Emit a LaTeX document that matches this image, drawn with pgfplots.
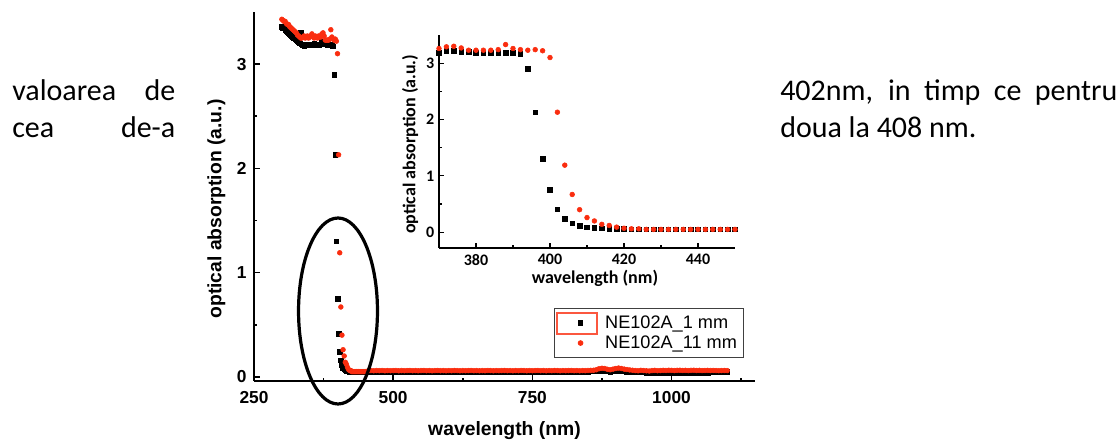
\documentclass[border=0pt]{standalone}
\usepackage{fontspec}
\usepackage{pgfplots}
\usepackage{pgfplotstable}
\pgfplotsset{compat=1.18}
\newfontfamily\arial{Liberation Sans}
\newfontfamily\calibri{Carlito}
\definecolor{dotred}{RGB}{250,45,15}

% wavelength, NE102A_1 mm (b), NE102A_11 mm (r)
\pgfplotstableread{
x b r
300 3.36 3.43
302 3.35 3.42
304 3.35 3.41
306 3.33 3.41
308 3.32 3.39
310 3.31 3.38
312 3.30 3.38
314 3.29 3.36
316 3.28 3.35
318 3.27 3.34
320 3.26 3.33
322 3.25 3.32
324 3.24 3.31
326 3.23 3.30
328 3.22 3.28
330 3.21 3.27
332 3.20 3.26
334 3.30 3.25
336 3.19 3.25
338 3.18 3.26
340 3.17 3.27
342 3.18 3.25
344 3.19 3.26
346 3.18 3.27
348 3.19 3.25
350 3.18 3.26
352 3.19 3.27
354 3.18 3.29
356 3.19 3.26
358 3.20 3.25
360 3.19 3.27
362 3.18 3.26
364 3.19 3.25
366 3.18 3.27
368 3.19 3.26
370 3.19 3.26
372 3.22 3.29
374 3.22 3.30
376 3.20 3.27
378 3.20 3.23
380 3.19 3.23
382 3.18 3.23
384 3.18 3.23
386 3.18 3.24
388 3.19 3.33
390 3.19 3.26
392 3.17 3.24
394 2.90 3.23
396 2.13 3.24
398 1.30 3.22
400 0.75 3.10
402 0.41 2.13
404 0.24 1.19
406 0.16 0.67
408 0.11 0.40
410 0.09 0.26
412 0.08 0.20
414 0.07 0.14
416 0.06 0.12
418 0.06 0.09
420 0.06 0.07
422 0.05 0.06
424 0.05 0.06
426 0.05 0.05
428 0.05 0.05
430 0.05 0.05
432 0.05 0.05
434 0.05 0.05
436 0.05 0.05
438 0.05 0.05
440 0.05 0.05
442 0.05 0.05
444 0.05 0.05
446 0.05 0.05
448 0.05 0.05
450 0.05 0.05
455 0.050 0.057
460 0.050 0.060
465 0.051 0.058
470 0.050 0.060
475 0.049 0.059
480 0.050 0.061
485 0.050 0.058
490 0.051 0.060
495 0.050 0.059
500 0.049 0.060
505 0.050 0.061
510 0.050 0.058
515 0.051 0.060
520 0.050 0.059
525 0.049 0.060
530 0.050 0.061
535 0.050 0.059
540 0.051 0.060
545 0.050 0.058
550 0.050 0.060
555 0.049 0.061
560 0.050 0.059
565 0.050 0.060
570 0.051 0.058
575 0.050 0.060
580 0.050 0.061
585 0.049 0.059
590 0.050 0.060
595 0.050 0.058
600 0.051 0.060
605 0.050 0.059
610 0.050 0.061
615 0.049 0.060
620 0.050 0.058
625 0.050 0.060
630 0.051 0.059
635 0.050 0.060
640 0.050 0.061
645 0.049 0.059
650 0.050 0.060
655 0.050 0.058
660 0.051 0.060
665 0.050 0.059
670 0.050 0.061
675 0.049 0.060
680 0.050 0.058
685 0.050 0.060
690 0.051 0.059
695 0.050 0.060
700 0.050 0.061
705 0.049 0.059
710 0.050 0.060
715 0.050 0.058
720 0.051 0.060
725 0.050 0.059
730 0.050 0.061
735 0.049 0.060
740 0.050 0.058
745 0.050 0.060
750 0.051 0.059
755 0.050 0.060
760 0.050 0.061
765 0.049 0.059
770 0.050 0.060
775 0.050 0.058
780 0.051 0.060
785 0.050 0.059
790 0.050 0.061
795 0.049 0.060
800 0.050 0.058
805 0.050 0.060
810 0.051 0.059
815 0.050 0.060
820 0.050 0.061
825 0.049 0.059
830 0.050 0.060
835 0.050 0.058
840 0.051 0.060
845 0.050 0.059
850 0.050 0.061
855 0.052 0.062
860 0.053 0.063
865 0.055 0.068
870 0.060 0.078
875 0.058 0.082
880 0.055 0.080
885 0.052 0.072
890 0.050 0.068
895 0.053 0.074
900 0.056 0.080
905 0.058 0.084
910 0.055 0.080
915 0.052 0.074
920 0.050 0.070
925 0.048 0.066
930 0.046 0.063
935 0.045 0.060
940 0.045 0.058
945 0.044 0.062
950 0.043 0.060
955 0.042 0.058
960 0.042 0.056
965 0.041 0.060
970 0.041 0.062
975 0.040 0.059
980 0.040 0.060
985 0.041 0.062
990 0.040 0.061
995 0.040 0.063
1000 0.041 0.062
1005 0.040 0.060
1010 0.041 0.062
1015 0.040 0.063
1020 0.040 0.061
1025 0.041 0.062
1030 0.040 0.060
1035 0.041 0.062
1040 0.040 0.063
1045 0.040 0.061
1050 0.041 0.062
1055 0.040 0.060
1060 0.041 0.061
1065 0.042 0.062
1070 0.045 0.060
1075 0.047 0.061
1080 0.048 0.060
1085 0.048 0.059
1090 0.049 0.060
1095 0.049 0.061
1100 0.050 0.060
}\absdata

\pgfplotsset{
  sqmark/.style={only marks, mark=square*, mark size=1.75pt, mark options={draw=black, fill=black}},
  dotmark/.style={only marks, mark=*, mark size=1.8pt, mark options={draw=dotred, fill=dotred}},
}

\begin{document}
\begin{tikzpicture}
\path[use as bounding box] (0,0) rectangle (840pt,330.75pt);

% surrounding document text
\begin{scope}[every node/.style={inner sep=0pt, font=\calibri\fontsize{22.5}{27}\selectfont}]
\node[anchor=base west] at (9pt,255.2pt) {\makebox[122.25pt][s]{valoarea de}};
\node[anchor=base west] at (9pt,227.25pt) {\makebox[122.25pt][s]{cea de-a}};
\node[anchor=base west] at (585pt,255.2pt) {\makebox[252.75pt][s]{402nm, in timp ce pentru}};
\node[anchor=base west] at (585pt,227.25pt) {doua la 408 nm.};
\end{scope}

% main plot
\begin{axis}[
    at={(190.5pt,45pt)}, anchor=south west,
    scale only axis, width=375.75pt, height=276.75pt,
    xmin=250, xmax=1150, ymin=-0.04, ymax=3.5,
    axis x line*=bottom, axis y line*=left,
    axis line style={line width=1.7pt},
    xtick={250,500,750,1000}, minor xtick={375,625,875,1125},
    ytick={0,1,2,3}, minor ytick={0.5,1.5,2.5},
    tick align=inside, major tick length=4.5pt, minor tick length=2.5pt,
    every tick/.style={line width=1.2pt, black},
    /pgf/number format/assume math mode=true,
    /pgf/number format/set thousands separator={},
    ticklabel style={font=\arial\bfseries\fontsize{13}{15}\selectfont},
    xticklabel style={yshift=-4.5pt},
    yticklabel style={xshift=-2pt},
    label style={font=\arial\bfseries\fontsize{14.5}{17}\selectfont},
    xlabel={wavelength (nm)},
    ylabel={optical absorption (a.u.)},
    x label style={at={(axis description cs:0.5,-0.133)}, anchor=center},
    y label style={at={(axis description cs:-0.075,0.466)}, anchor=center},
    legend style={at={(0.978,0.062)}, anchor=south east, draw=black!75,
      line width=0.6pt, font=\arial\fontsize{13.6}{16}\selectfont,
      inner xsep=3pt, inner ysep=3.5pt, row sep=0pt},
    legend cell align=left,
    legend image code/.code={\path[draw=none] (0pt,0pt) -- (33pt,0pt);
      \draw[#1, draw=none] plot coordinates {(16.5pt,0pt)};},
]
\addplot[sqmark] table[x=x, y=b] {\absdata};
\addplot[dotmark] table[x=x, y=r] {\absdata};
\legend{NE102A\_1 mm, NE102A\_11 mm}
\end{axis}

% inset
\begin{axis}[
    at={(329.25pt,144.75pt)}, anchor=south west,
    scale only axis, width=222pt, height=159.75pt,
    xmin=370, xmax=450, ymin=-0.28, ymax=3.5,
    restrict x to domain=369:451,
    axis x line*=bottom, axis y line*=left,
    axis line style={line width=1.1pt},
    xtick={380,400,420,440}, minor xtick={390,410,430},
    ytick={0,1,2,3}, minor ytick={0.5,1.5,2.5},
    tick align=inside, major tick length=4pt, minor tick length=2.5pt,
    every tick/.style={line width=0.9pt, black},
    /pgf/number format/assume math mode=true,
    ticklabel style={font=\calibri\bfseries\fontsize{12}{14}\selectfont},
    xticklabel style={yshift=-1pt},
    label style={font=\calibri\bfseries\fontsize{13.5}{16}\selectfont},
    xlabel={wavelength (nm)},
    ylabel={optical absorption (a.u.)},
    x label style={at={(axis description cs:0.527,-0.141)}, anchor=center},
    y label style={at={(axis description cs:-0.098,0.487)}, anchor=center},
]
\addplot[sqmark] table[x=x, y=b] {\absdata};
\addplot[dotmark] table[x=x, y=r] {\absdata};
\end{axis}

% annotations
\draw[line width=2.4pt] (253.5pt,97.5pt) ellipse [x radius=29.6pt, y radius=69.75pt];
\draw[dotred!80, line width=0.8pt] (417.75pt,80.25pt) rectangle (447.75pt,96pt);
\end{tikzpicture}
\end{document}
